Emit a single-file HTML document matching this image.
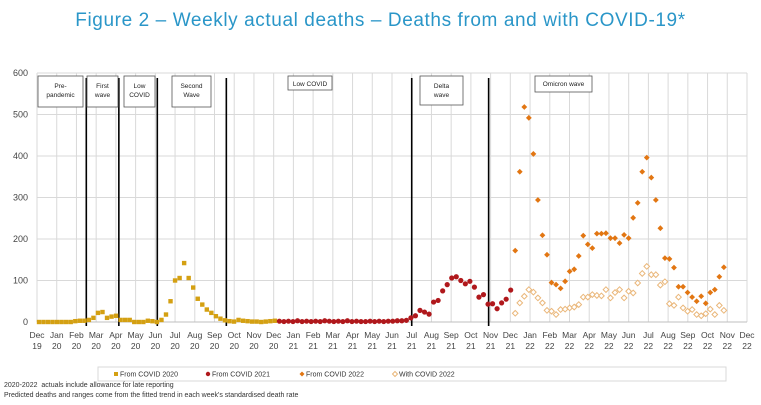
<!DOCTYPE html>
<html><head><meta charset="utf-8"><style>
body{margin:0;background:#fff;width:761px;height:405px;overflow:hidden;font-family:"Liberation Sans",sans-serif}
#title{position:absolute;left:0;width:761px;top:10px;text-align:center;font-size:19px;color:#2a96c8;letter-spacing:0.6px}
.foot{position:absolute;left:4px;font-size:7px;color:#333}
</style></head><body>
<div id="title">Figure 2 – Weekly actual deaths – Deaths from and with COVID-19*</div>
<svg id="chart" width="761" height="405" style="position:absolute;left:0;top:0" font-family="Liberation Sans, sans-serif"></svg>
<div class="foot" style="top:382px">2020-2022&nbsp; actuals include allowance for late reporting</div>
<div class="foot" style="top:392px">Predicted deaths and ranges come from the fitted trend in each week's standardised death rate</div>
<script>
const months=["Dec","Jan","Feb","Mar","Apr","May","Jun","Jul","Aug","Sep","Oct","Nov","Dec","Jan","Feb","Mar","Apr","May","Jun","Jul","Aug","Sep","Oct","Nov","Dec","Jan","Feb","Mar","Apr","May","Jun","Jul","Aug","Sep","Oct","Nov","Dec"];
const years=["19","20","20","20","20","20","20","20","20","20","20","20","20","21","21","21","21","21","21","21","21","21","21","21","21","22","22","22","22","22","22","22","22","22","22","22","22"];
const yTicks=[0,100,200,300,400,500,600];
const covid2020=[0,0,0,0,0,0,0,0,2,3,3,5,10,22,24,10,13,15,5,5,5,0,0,0,3,2,0,5,18,50,100,106,142,106,83,56,42,30,22,14,8,4,2,1,5,3,2,1,1,0,1,2,3];
const start2020=0;
const covid2021=[2,1,2,1,3,1,2,1,2,1,3,2,1,2,1,3,1,2,1,1,2,1,2,1,2,2,3,3,4,10,15,28,24,19,48,52,75,90,106,109,100,92,98,84,60,66,43,44,32,46,55,77];
const start2021=53;
const from2022=[172,362,518,492,405,294,209,162,95,90,81,98,122,127,159,208,187,178,213,213,214,202,202,190,210,202,251,287,362,396,348,294,226,154,152,131,85,85,71,60,50,62,45,71,78,109,132];
const with2022=[21,46,62,78,72,58,46,28,26,18,30,31,34,36,42,60,60,66,64,63,78,58,71,78,58,74,70,94,117,134,114,114,89,97,44,40,60,34,26,30,18,15,20,31,18,40,28];
const start2022=105;
const waveLines=[2.5,4.15,6.1,9.6,19.0,22.9];
const waveLabels=[["Pre-","pandemic"],["First","wave"],["Low","COVID"],["Second","Wave"],["Low COVID"],["Delta","wave"],["Omicron wave"]];
const waveBoxes=[[38,83,76,107],[87,118,76,107],[124,155,76,107],[172,211,76,107],[288,332,76,90],[420,463,76,105],[535,592,76,92]];

const svg=document.getElementById('chart');const NS="http://www.w3.org/2000/svg";
function el(t,a,p){const e=document.createElementNS(NS,t);for(const k in a)e.setAttribute(k,a[k]);(p||svg).appendChild(e);return e;}
const X0=37,X1=747,Y0=322,Y1=73;
const xm=m=>X0+m*(X1-X0)/36;
const wk=(X1-X0)/36*12/52.18;
const xw=i=>39+i*wk;
const y=v=>Y0-v*(Y0-Y1)/600;
for(let m=0;m<=36;m++){const l=el('line',{x1:xm(m),x2:xm(m),y1:Y1,y2:Y0,stroke:'#d9d9d9','stroke-width':1});
}
yTicks.forEach(v=>{const l=el('line',{x1:X0,x2:X1,y1:y(v),y2:y(v),stroke:'#d9d9d9','stroke-width':1});

const t=el('text',{x:28,y:y(v)+3,'text-anchor':'end','font-size':9,fill:'#444'});t.textContent=v;
});
el('line',{x1:X0,x2:X1,y1:Y0,y2:Y0,stroke:'#bfbfbf'});
months.forEach((mn,m)=>{const t=el('text',{x:xm(m),y:338,'text-anchor':'middle','font-size':8.5,fill:'#444'});t.textContent=mn;

const t2=el('text',{x:xm(m),y:349,'text-anchor':'middle','font-size':8.5,fill:'#444'});t2.textContent=years[m];
});
waveLines.forEach(m=>{const l=el('line',{x1:xm(m),x2:xm(m),y1:78,y2:Y0+4,stroke:'#000','stroke-width':1.6});
});
waveBoxes.forEach((b,i)=>{const g=el('g',{});
el('rect',{x:b[0],y:b[2],width:b[1]-b[0],height:b[3]-b[2],fill:'#fff',stroke:'#555','stroke-width':0.8},g);
const L=waveLabels[i];L.forEach((s,j)=>{const t=el('text',{x:(b[0]+b[1])/2,y:b[2]+(L.length==1?10:12+j*9),'text-anchor':'middle','font-size':6.5,fill:'#222'},g);t.textContent=s;});});
covid2020.forEach((v,i)=>{const r=el('rect',{x:xw(start2020+i)-2.2,y:y(v)-2.2,width:4.4,height:4.4,fill:'#d4a012'});
});
covid2021.forEach((v,i)=>{const c=el('circle',{cx:xw(start2021+i),cy:y(v),r:2.6,fill:'#b0181c'});
});
const dia=(cx,cy,s)=>`M${cx},${cy-s}L${cx+s},${cy}L${cx},${cy+s}L${cx-s},${cy}Z`;
with2022.forEach((v,i)=>{const p=el('path',{d:dia(xw(start2022+i),y(v),2.8),fill:'#fff',stroke:'#eab77a','stroke-width':1});
});
from2022.forEach((v,i)=>{const p=el('path',{d:dia(xw(start2022+i),y(v),2.9),fill:'#e27612'});
});
const lg=el('g',{});
el('rect',{x:98,y:367,width:628,height:14,fill:'#fff',stroke:'#d9d9d9'},lg);
const items=[[116,'sq','#d4a012','From COVID 2020'],[208,'ci','#b0181c','From COVID 2021'],[302,'di','#e27612','From COVID 2022'],[395,'ho','#eab77a','With COVID 2022']];
items.forEach(it=>{const g=el('g',{},lg);
const cx=it[0],cy=374;
if(it[1]=='sq')el('rect',{x:cx-2,y:cy-2,width:4,height:4,fill:it[2]},g);
else if(it[1]=='ci')el('circle',{cx:cx,cy:cy,r:2.2,fill:it[2]},g);
else if(it[1]=='di')el('path',{d:dia(cx,cy,2.5),fill:it[2]},g);
else el('path',{d:dia(cx,cy,2.5),fill:'#fff',stroke:it[2]},g);
const t=el('text',{x:cx+4,y:cy+2.5,'font-size':7,fill:'#333'},g);t.textContent=it[3];});
</script>
</body></html>
